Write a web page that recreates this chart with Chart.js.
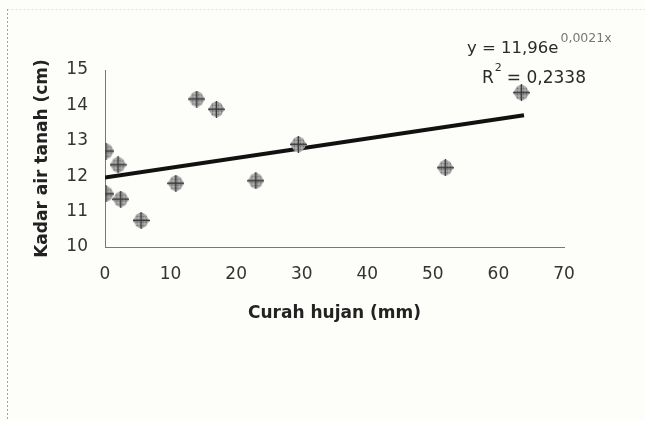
<!DOCTYPE html>
<html>
<head>
<meta charset="utf-8">
<script src="https://cdn.jsdelivr.net/npm/chart.js@4.4.0/dist/chart.umd.min.js"></script>
<style>
  html, body { margin: 0; padding: 0; background: #fdfdfa; }
  #wrap { width: 645px; height: 421px; position: relative; }
</style>
</head>
<body>
<div id="wrap"><canvas id="c" width="645" height="421"></canvas></div>
<script>
// Data
const rainfall = [0.15, 2.0, 0.15, 2.4, 5.5, 10.8, 14.0, 17.0, 23.0, 29.5, 51.9, 63.5];
const waterLevel = [12.71, 12.32, 11.50, 11.35, 10.75, 11.80, 14.18, 13.89, 11.87, 12.90, 12.24, 14.36];
const trendX = [0, 63.9];
const trendY = [11.96, 13.72];
const xTicks = [0, 10, 20, 30, 40, 50, 60, 70];
const yTicks = [10, 11, 12, 13, 14, 15];
const xTitle = 'Curah hujan (mm)';
const yTitle = 'Kadar air tanah (cm)';
const eqMain = 'y = 11,96e';
const eqSup = '0,0021x';
const r2Text = 'R';
const r2Sup = '2';
const r2Value = '= 0,2338';

// marker image: rounded diamond with grid hatching
function makeMarker() {
  const s = 17, c = document.createElement('canvas');
  c.width = s; c.height = s;
  const g = c.getContext('2d');
  const m = s / 2;
  g.beginPath();
  g.moveTo(m, 0.5); g.lineTo(s - 4, 2.5); g.lineTo(s - 0.5, m); g.lineTo(s - 4, s - 2.5);
  g.lineTo(m, s - 0.5); g.lineTo(4, s - 2.5); g.lineTo(0.5, m); g.lineTo(4, 2.5); g.closePath();
  g.fillStyle = '#707070';
  g.fill();
  g.save();
  g.clip();
  g.strokeStyle = 'rgba(205,205,205,0.85)';
  g.lineWidth = 1;
  for (let i = 3; i < s; i += 3) {
    g.beginPath(); g.moveTo(0, i); g.lineTo(s, i); g.stroke();
    g.beginPath(); g.moveTo(i, 0); g.lineTo(i, s); g.stroke();
  }
  g.strokeStyle = '#3c3c3c';
  g.lineWidth = 1;
  g.beginPath(); g.moveTo(m, 0); g.lineTo(m, s); g.moveTo(0, m); g.lineTo(s, m); g.stroke();
  g.restore();
  g.strokeStyle = '#3a3a3a';
  g.lineWidth = 1.3;
  g.stroke();
  return c;
}
const marker = makeMarker();

const points = rainfall.map((x, i) => ({ x: x, y: waterLevel[i] }));
const trend = trendX.map((x, i) => ({ x: x, y: trendY[i] }));

const decor = {
  id: 'decor',
  beforeDraw(chart) {
    const ctx = chart.ctx;
    ctx.save();
    ctx.fillStyle = '#fdfdfa';
    ctx.fillRect(0, 0, chart.width, chart.height);
    ctx.lineWidth = 1;
    ctx.setLineDash([2, 2]);
    ctx.strokeStyle = 'rgba(140,140,140,0.8)';
    ctx.beginPath();
    ctx.moveTo(7.5, 9); ctx.lineTo(7.5, chart.height);
    ctx.stroke();
    ctx.strokeStyle = 'rgba(190,190,190,0.45)';
    ctx.beginPath();
    ctx.moveTo(7.5, 9.5); ctx.lineTo(chart.width, 9.5);
    ctx.stroke();
    ctx.restore();
  },
  afterDraw(chart) {
    const ctx = chart.ctx;
    ctx.save();
    ctx.textBaseline = 'alphabetic';
    ctx.fillStyle = '#2a2a2a';
    ctx.font = '16.5px "DejaVu Sans", sans-serif';
    ctx.fillText(eqMain, 467, 53);
    const w1 = ctx.measureText(eqMain).width;
    ctx.fillStyle = '#777';
    ctx.font = '12.5px "DejaVu Sans", sans-serif';
    ctx.fillText(eqSup, 467 + w1 + 2, 42);
    ctx.fillStyle = '#2a2a2a';
    ctx.font = '17px "DejaVu Sans", sans-serif';
    ctx.fillText(r2Text, 482, 83);
    const wr = ctx.measureText(r2Text).width;
    ctx.font = '11px "DejaVu Sans", sans-serif';
    ctx.fillText(r2Sup, 482 + wr + 1, 71);
    const ws = ctx.measureText(r2Sup).width;
    ctx.font = '17px "DejaVu Sans", sans-serif';
    ctx.fillText(r2Value, 482 + wr + ws + 6, 83);
    ctx.restore();
  }
};

new Chart(document.getElementById('c'), {
  type: 'scatter',
  data: {
    datasets: [
      {
        label: 'Data',
        data: points,
        pointStyle: marker,
        pointRadius: 8,
        pointHoverRadius: 8,
        order: 1
      },
      {
        label: 'Trend',
        type: 'line',
        data: trend,
        borderColor: '#111',
        borderWidth: 4,
        pointRadius: 0,
        fill: false,
        tension: 0,
        order: 2
      }
    ]
  },
  options: {
    responsive: false,
    animation: false,
    devicePixelRatio: 1,
    layout: { padding: { left: 0, right: 81, top: 70, bottom: 94 } },
    plugins: { legend: { display: false }, tooltip: { enabled: false } },
    scales: {
      x: {
        type: 'linear',
        min: 0, max: 70,
        afterBuildTicks(scale) { scale.ticks = xTicks.map(v => ({ value: v })); },
        afterFit(scale) { scale.height = 80; },
        grid: { display: false, drawOnChartArea: false, drawTicks: true, tickLength: 5, tickColor: '#777' },
        border: { display: true, color: '#777', width: 1 },
        ticks: { color: '#333', padding: 12, font: { family: '"DejaVu Sans", sans-serif', size: 17 }, maxRotation: 0 },
        title: {
          display: true, text: xTitle, color: '#222',
          font: { family: '"DejaVu Sans", sans-serif', size: 17, weight: 'bold' },
          padding: { top: 0, bottom: 3 }
        }
      },
      y: {
        type: 'linear',
        min: 10, max: 15,
        afterBuildTicks(scale) { scale.ticks = yTicks.map(v => ({ value: v })); },
        afterFit(scale) { scale.width = 105; },
        grid: { display: false, drawOnChartArea: false, drawTicks: true, tickLength: 5, tickColor: '#777' },
        border: { display: true, color: '#777', width: 1 },
        ticks: { color: '#333', padding: 12, font: { family: '"DejaVu Sans", sans-serif', size: 17 } },
        title: {
          display: true, text: yTitle, color: '#222',
          font: { family: '"DejaVu Sans", sans-serif', size: 17, weight: 'bold' },
          padding: { top: 32, bottom: 0 }
        }
      }
    }
  },
  plugins: [decor]
});
</script>
</body>
</html>
